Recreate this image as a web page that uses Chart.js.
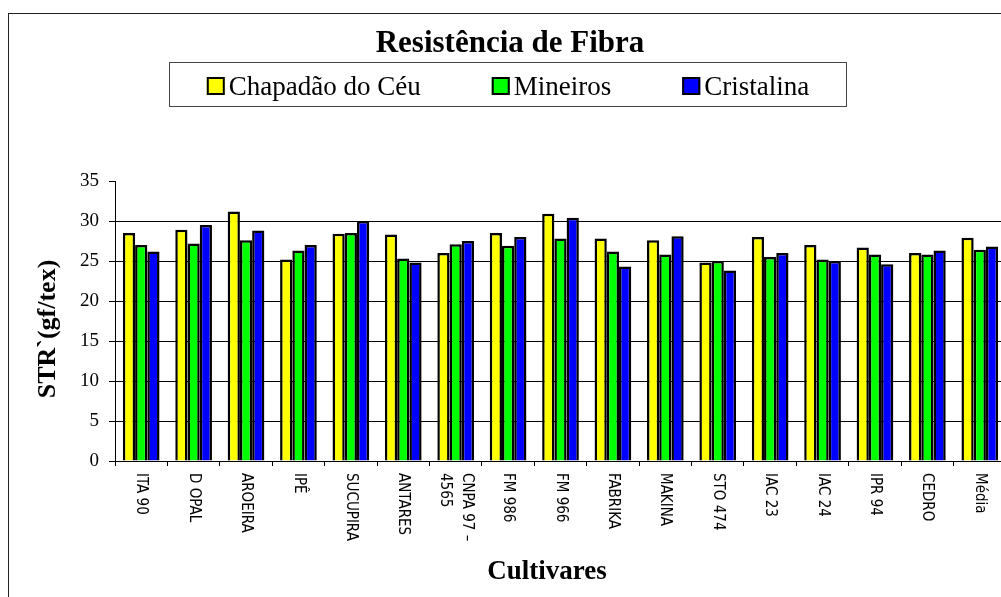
<!DOCTYPE html>
<html>
<head>
<meta charset="utf-8">
<title>Resistência de Fibra</title>
<script src="https://cdn.jsdelivr.net/npm/chart.js@4"></script>
<style>
  html, body { margin: 0; padding: 0; background: #fff; overflow: hidden; }
  canvas { display: block; }
</style>
</head>
<body>
<canvas id="fibra-chart" width="1010" height="597"></canvas>
<script>
// data:
const cultivares = [
  "ITA 90", "D OPAL", "AROEIRA", "IPÊ", "SUCUPIRA", "ANTARES", ["CNPA 97 –", "4565"],
  "FM 986", "FM 966", "FABRIKA", "MAKINA", "STO 474", "IAC 23", "IAC 24", "IPR 94", "CEDRO", "Média"
];
const chapadaoDoCeu = [28.5, 28.9, 31.2, 25.2, 28.4, 28.3, 26.0, 28.5, 30.9, 27.8, 27.6, 24.8, 28.0, 27.0, 26.7, 26.0, 27.9];
const mineiros = [27.0, 27.2, 27.6, 26.3, 28.5, 25.3, 27.1, 26.9, 27.8, 26.2, 25.8, 25.0, 25.5, 25.2, 25.8, 25.8, 26.4];
const cristalina = [26.2, 29.5, 28.8, 27.0, 30.0, 24.8, 27.5, 28.0, 30.4, 24.3, 28.1, 23.8, 26.0, 25.0, 24.6, 26.3, 26.8];
const yTicks = [0, 5, 10, 15, 20, 25, 30, 35];

const chartTitle = "Resistência de Fibra";
const yTitle = "STR`(gf/tex)";
const xTitle = "Cultivares";

const serif = "'Liberation Serif', 'Times New Roman', serif";
const narrow = "'Liberation Sans Narrow', 'Arial Narrow', 'DejaVu Sans Condensed', sans-serif";

// frame, title, legend box, axis titles and the rotated category labels:
const excelDecor = {
  id: "excelDecor",
  afterDraw(chart) {
    const ctx = chart.ctx;
    const x = chart.scales.x;
    ctx.save();

    // outer frame (right/bottom edges fall outside the picture):
    ctx.strokeStyle = "#222";
    ctx.lineWidth = 1;
    ctx.strokeRect(8.5, 13.5, 1100, 700);

    // title:
    ctx.fillStyle = "#000";
    ctx.font = "bold 31px " + serif;
    ctx.textAlign = "center";
    ctx.textBaseline = "alphabetic";
    ctx.fillText(chartTitle, 510, 52);

    // legend box:
    ctx.strokeStyle = "#444";
    ctx.strokeRect(169.5, 62.5, 677, 44);
    ctx.font = "27px " + serif;
    const items = chart.data.datasets.map(ds => ({
      text: ds.label, color: ds.backgroundColor, w: ctx.measureText(ds.label).width
    }));
    const box = 18, gap = 4, spacing = 71;
    let total = 0;
    items.forEach((it, i) => { total += box + gap + it.w + (i < items.length - 1 ? spacing : 0); });
    let lx = 508 - total / 2;
    ctx.textAlign = "left";
    items.forEach(it => {
      ctx.fillStyle = it.color;
      ctx.fillRect(lx, 77, box, box);
      ctx.strokeStyle = "#000";
      ctx.lineWidth = 2;
      ctx.strokeRect(lx + 1, 78, box - 2, box - 2);
      ctx.fillStyle = "#000";
      ctx.fillText(it.text, lx + box + gap, 95);
      lx += box + gap + it.w + spacing;
    });

    // y axis title:
    ctx.save();
    ctx.translate(48, 329);
    ctx.rotate(-Math.PI / 2);
    ctx.font = "bold 26px " + serif;
    ctx.textAlign = "center";
    ctx.textBaseline = "middle";
    ctx.fillText(yTitle, 0, 0);
    ctx.restore();

    // x axis title:
    ctx.font = "bold 27px " + serif;
    ctx.textAlign = "center";
    ctx.textBaseline = "alphabetic";
    ctx.fillText(xTitle, 547, 579);

    // category labels, turned clockwise:
    ctx.font = "15px " + narrow;
    chart.data.labels.forEach((lab, i) => {
      const lines = Array.isArray(lab) ? lab : [lab];
      const px = x.getPixelForValue(i);
      ctx.save();
      ctx.translate(px, 473);
      ctx.rotate(Math.PI / 2);
      ctx.textAlign = "left";
      ctx.textBaseline = "middle";
      lines.forEach((ln, k) => {
        ctx.fillText(ln, 0, (k - (lines.length - 1) / 2) * 22);
      });
      ctx.restore();
    });

    ctx.restore();
  }
};

function makeSet(label, data, color) {
  return {
    label: label,
    data: data,
    backgroundColor: color,
    borderColor: "#000",
    borderWidth: 2.5,
    categoryPercentage: 0.7,
    barPercentage: 1.0
  };
}

const ctx = document.getElementById("fibra-chart");
const fibraChart = new Chart(ctx, {
  type: "bar",
  data: {
    labels: cultivares,
    datasets: [
      makeSet("Chapadão do Céu", chapadaoDoCeu, "#FFFF00"),
      makeSet("Mineiros", mineiros, "#00FF00"),
      makeSet("Cristalina", cristalina, "#0000FF")
    ]
  },
  options: {
    responsive: false,
    animation: false,
    devicePixelRatio: 1,
    layout: { padding: { top: 181, left: 0, right: 4, bottom: 0 } },
    plugins: {
      legend: { display: false },
      title: { display: false },
      tooltip: { enabled: false }
    },
    scales: {
      x: {
        offset: true,
        grid: {
          display: true,
          drawOnChartArea: false,
          drawTicks: true,
          tickLength: 5,
          color: "#000",
          offset: true
        },
        border: { color: "#000", width: 1 },
        ticks: { display: false },
        afterFit(scale) { scale.height = 136; }
      },
      y: {
        min: 0,
        max: 35,
        afterBuildTicks(scale) { scale.ticks = yTicks.map(v => ({ value: v })); },
        grid: {
          color: c => (c.tick && c.tick.value === 35 ? "rgba(0,0,0,0)" : "#000"),
          tickColor: "#000",
          tickLength: 6,
          lineWidth: 1
        },
        border: { color: "#000", width: 1 },
        ticks: {
          color: "#000",
          padding: 10,
          font: { family: serif, size: 19 }
        },
        afterFit(scale) { scale.width = 115; }
      }
    }
  },
  plugins: [excelDecor]
});
</script>
</body>
</html>
